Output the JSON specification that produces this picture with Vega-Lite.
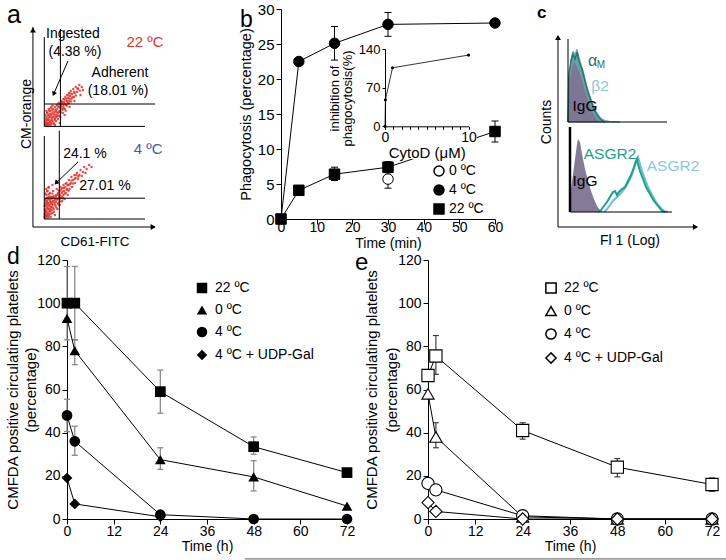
{
 "$schema": "https://vega.github.io/schema/vega-lite/v6.json",
 "background": "white",
 "padding": {"left": 5, "top": 2, "right": 0, "bottom": 0},
 "config": {
  "font": "Liberation Sans",
  "view": {"stroke": null},
  "axis": {"domainColor": "black", "tickColor": "black", "labelColor": "black", "titleColor": "black", "grid": false, "labelFont": "Liberation Sans", "titleFont": "Liberation Sans", "titleFontWeight": "normal", "labelFlush": false, "labelOverlap": false, "tickSize": 5, "domainWidth": 1, "tickWidth": 1},
  "legend": {"labelFont": "Liberation Sans", "labelColor": "black"},
  "text": {"font": "Liberation Sans", "fontWeight": "normal"}
 },
 "datasets": {
  "aDots": [
   {"x":10,"y":51},{"x":10.5,"y":53},{"x":11,"y":52},{"x":11,"y":55},{"x":11.5,"y":51.5},{"x":12,"y":54},{"x":12,"y":57},{"x":12.5,"y":52},{"x":13,"y":53.5},{"x":13,"y":56},{"x":13.5,"y":51},{"x":14,"y":55},{"x":14,"y":58},{"x":14.5,"y":53},{"x":15,"y":52},{"x":15,"y":56},{"x":15.5,"y":54.5},{"x":16,"y":57},{"x":16,"y":53},{"x":16.5,"y":59},{"x":17,"y":55},{"x":17,"y":51.5},{"x":17.5,"y":57.5},{"x":18,"y":54},{"x":18,"y":60},{"x":18.5,"y":56},{"x":19,"y":58},{"x":19,"y":53},{"x":19.5,"y":61},{"x":20,"y":56},{"x":20,"y":59},{"x":20.5,"y":54},{"x":21,"y":57.5},{"x":21,"y":62},{"x":21.5,"y":60},{"x":22,"y":58},{"x":22.5,"y":55},{"x":23,"y":61},{"x":23,"y":63},{"x":23.5,"y":59},{"x":24,"y":62},{"x":24.5,"y":57},{"x":25,"y":64},{"x":25,"y":60},{"x":25.5,"y":62.5},{"x":26,"y":59},{"x":26.5,"y":65},{"x":27,"y":61},{"x":27.5,"y":63},{"x":28,"y":66},{"x":28.5,"y":62},{"x":29,"y":64.5},{"x":29.5,"y":67},{"x":30,"y":63},{"x":30.5,"y":65.5},{"x":31,"y":68},{"x":31.5,"y":64},{"x":32,"y":66.5},{"x":33,"y":69},{"x":33.5,"y":65},{"x":34,"y":67},{"x":35,"y":70},{"x":36,"y":67.5},{"x":37,"y":69},{"x":38,"y":71},{"x":12,"y":50.8},{"x":10.2,"y":56},{"x":13,"y":59},{"x":15,"y":60},{"x":11,"y":58},{"x":18,"y":51},{"x":22,"y":52},{"x":26,"y":56},{"x":30,"y":60},{"x":34,"y":63},{"x":40,"y":70},{"x":41,"y":68.5},{"x":39,"y":66},
   {"x":10.3,"y":52.2},{"x":10.7,"y":54.1},{"x":11.2,"y":50.9},{"x":11.8,"y":53.3},{"x":12.3,"y":55.8},{"x":12.7,"y":51.6},{"x":13.2,"y":54.7},{"x":13.8,"y":52.4},{"x":14.3,"y":56.6},{"x":14.8,"y":51.2},{"x":15.3,"y":53.7},{"x":15.8,"y":58.3},{"x":16.2,"y":55.2},{"x":16.8,"y":52.1},{"x":17.3,"y":56.4},{"x":17.8,"y":53.6},{"x":18.3,"y":58.7},{"x":18.8,"y":54.9},{"x":19.3,"y":57.2},{"x":19.8,"y":55.3},{"x":20.3,"y":60.4},{"x":20.8,"y":57.1},{"x":21.3,"y":55.6},{"x":21.8,"y":61.3},{"x":22.3,"y":59.6},{"x":22.8,"y":57.4},{"x":23.3,"y":60.2},{"x":23.8,"y":62.8},{"x":24.3,"y":58.6},{"x":24.8,"y":61.1},{"x":25.3,"y":59.2},{"x":25.8,"y":63.7},{"x":26.3,"y":61.4},{"x":26.8,"y":58.1},{"x":27.3,"y":64.3},{"x":27.8,"y":60.6},{"x":28.3,"y":63.1},{"x":28.8,"y":65.7},{"x":29.3,"y":61.9},{"x":29.8,"y":64.2},{"x":30.3,"y":66.8},{"x":31.2,"y":62.7},{"x":32.4,"y":64.9},{"x":33.7,"y":67.6},{"x":35.2,"y":65.8},{"x":36.6,"y":69.4},{"x":38.4,"y":68.2},{"x":11.4,"y":57.1},{"x":12.9,"y":58.2},{"x":14.6,"y":59.4},{"x":16.1,"y":60.8},
   {"x":9.5,"y":5},{"x":9.8,"y":7},{"x":10,"y":9},{"x":10,"y":12},{"x":10.2,"y":4.5},{"x":10.5,"y":6},{"x":10.5,"y":14},{"x":11,"y":8},{"x":11,"y":11},{"x":11,"y":16},{"x":11.5,"y":5.5},{"x":11.5,"y":13},{"x":12,"y":7},{"x":12,"y":10},{"x":12,"y":18},{"x":12.5,"y":4.8},{"x":12.5,"y":12},{"x":13,"y":9},{"x":13,"y":15},{"x":13.5,"y":6.5},{"x":13.5,"y":11},{"x":14,"y":8},{"x":14,"y":13.5},{"x":14,"y":17},{"x":14.5,"y":5},{"x":15,"y":10},{"x":15,"y":12.5},{"x":15.5,"y":15},{"x":16,"y":7},{"x":16,"y":11},{"x":16.5,"y":13},{"x":16.5,"y":18},{"x":17,"y":9},{"x":17,"y":15.5},{"x":17.5,"y":12},{"x":18,"y":6},{"x":18,"y":14},{"x":18.5,"y":10.5},{"x":19,"y":16},{"x":19,"y":12.5},{"x":19.5,"y":19},{"x":20,"y":14},{"x":20,"y":9},{"x":20.5,"y":17},{"x":21,"y":12},{"x":21.5,"y":15},{"x":22,"y":18},{"x":22,"y":11},{"x":22.5,"y":20},{"x":23,"y":14.5},{"x":23.5,"y":17},{"x":24,"y":13},{"x":24,"y":19.5},{"x":25,"y":16},{"x":25,"y":21},{"x":25.5,"y":18},{"x":26,"y":14},{"x":26.5,"y":20},{"x":27,"y":17},{"x":27.5,"y":22},{"x":28,"y":19},{"x":28.5,"y":16},{"x":29,"y":21},{"x":29.5,"y":23.5},{"x":30,"y":19},{"x":31,"y":22},{"x":31.5,"y":25},{"x":32,"y":20},{"x":33,"y":23.5},{"x":34,"y":26},{"x":34.5,"y":22},{"x":35,"y":24.5},{"x":36,"y":27},{"x":37,"y":24},{"x":38,"y":26},{"x":39,"y":28.5},{"x":40,"y":25.5},{"x":41,"y":27.5},{"x":42,"y":30},{"x":43,"y":27},{"x":44,"y":29},{"x":46,"y":31},{"x":48,"y":30},{"x":10.8,"y":19},{"x":13,"y":20},{"x":16,"y":21},{"x":19,"y":23},{"x":9.6,"y":10.5},
   {"x":9.7,"y":6.1},{"x":9.9,"y":8.3},{"x":10.1,"y":10.7},{"x":10.4,"y":13.2},{"x":10.6,"y":5.2},{"x":10.9,"y":7.4},{"x":11.2,"y":9.6},{"x":11.4,"y":12.1},{"x":11.7,"y":14.7},{"x":11.9,"y":6.3},{"x":12.2,"y":8.8},{"x":12.4,"y":11.3},{"x":12.7,"y":13.9},{"x":12.9,"y":16.4},{"x":13.2,"y":5.6},{"x":13.4,"y":7.7},{"x":13.7,"y":10.2},{"x":13.9,"y":12.6},{"x":14.2,"y":15.3},{"x":14.4,"y":9.1},{"x":14.7,"y":11.6},{"x":14.9,"y":6.8},{"x":15.2,"y":14.1},{"x":15.4,"y":8.4},{"x":15.7,"y":11.9},{"x":15.9,"y":16.7},{"x":16.3,"y":9.8},{"x":16.7,"y":14.6},{"x":17.2,"y":7.6},{"x":17.6,"y":13.3},{"x":18.2,"y":11.2},{"x":18.7,"y":15.2},{"x":19.2,"y":9.7},{"x":19.7,"y":13.8},{"x":20.2,"y":16.1},{"x":20.7,"y":11.4},{"x":21.2,"y":18.3},{"x":21.7,"y":13.6},{"x":22.2,"y":15.9},{"x":22.7,"y":12.7},{"x":23.2,"y":18.8},{"x":23.7,"y":15.2},{"x":24.2,"y":17.7},{"x":24.7,"y":14.4},{"x":25.4,"y":19.6},{"x":26.1,"y":16.8},{"x":26.8,"y":21.7},{"x":27.6,"y":18.6},{"x":28.4,"y":20.9},{"x":29.2,"y":18.1},{"x":30.3,"y":21.4},{"x":31.6,"y":23.2},{"x":32.8,"y":21.8},{"x":34.2,"y":24.1},{"x":35.6,"y":25.9},{"x":37.2,"y":25.3},{"x":10.2,"y":16.8},{"x":11.6,"y":17.9},{"x":12.6,"y":19.6}
  ],
  "aLines": [
   {"x":0,"y":0,"x2":0,"y2":100},{"x":0,"y":0,"x2":100,"y2":0},
   {"x":9.3,"y":50.3,"x2":9.3,"y2":95},{"x":9.3,"y":50.3,"x2":91.8,"y2":50.3},{"x":9.3,"y":61.5,"x2":100,"y2":61.5},{"x":22.5,"y":50.3,"x2":22.5,"y2":99},
   {"x":9.3,"y":4,"x2":9.3,"y2":45.5},{"x":9.3,"y":4,"x2":91.8,"y2":4},{"x":9.3,"y":14.4,"x2":91.8,"y2":14.4},{"x":21.6,"y":4,"x2":21.6,"y2":48.2},
   {"x":28.7,"y":83,"x2":17,"y2":66.5},{"x":36.9,"y":32.5,"x2":19,"y2":22}
  ],
  "aText": [
   {"x":32.8,"y":96.5,"label":"Ingested"},{"x":34.4,"y":87.5,"label":"(4.38 %)"},
   {"x":71.3,"y":77,"label":"Adherent"},{"x":69.7,"y":68,"label":"(18.01 %)"},
   {"x":42.6,"y":36.5,"label":"24.1 %"},{"x":59,"y":20.5,"label":"27.01 %"}
  ],
  "aTemps": [{"x":91.8,"y":92.5,"label":"22 ºC"},{"x":94.3,"y":39,"label":"4 ºC"}],
  "bPts": [
   {"series":"22 ºC","t":0,"v":0},{"series":"22 ºC","t":5,"v":4.1},{"series":"22 ºC","t":15,"v":6.4},{"series":"22 ºC","t":30,"v":7.4},{"series":"22 ºC","t":60,"v":12.5},
   {"series":"4 ºC","t":5,"v":22.5},{"series":"4 ºC","t":15,"v":25.1},{"series":"4 ºC","t":30,"v":27.8},{"series":"4 ºC","t":60,"v":28},
   {"series":"0 ºC","t":30,"v":5.7}
  ],
  "bLines": [
   {"series":"22 ºC","t":0,"v":0},{"series":"22 ºC","t":5,"v":4.1},{"series":"22 ºC","t":15,"v":6.4},{"series":"22 ºC","t":30,"v":7.4},{"series":"22 ºC","t":60,"v":12.5},
   {"series":"4 ºC","t":0,"v":0},{"series":"4 ºC","t":5,"v":22.5},{"series":"4 ºC","t":15,"v":25.1},{"series":"4 ºC","t":30,"v":27.8},{"series":"4 ºC","t":60,"v":28}
  ],
  "bErr": [
   {"t":15,"lo":22.7,"hi":27.5},{"t":30,"lo":26.1,"hi":29.5},{"t":15,"lo":5.5,"hi":7.4},{"t":30,"lo":6.6,"hi":8.2},{"t":60,"lo":11,"hi":14},{"t":30,"lo":4.4,"hi":7.9}
  ],
  "bInset": [{"c":0,"inh":0},{"c":0.05,"inh":48},{"c":0.9,"inh":106},{"c":10,"inh":129}],
  "cB2": [{"x":10,"y":105},{"x":11,"y":148},{"x":13,"y":168},{"x":15,"y":176},{"x":17,"y":173},{"x":19,"y":178},{"x":21,"y":170},{"x":23,"y":163},{"x":26,"y":153},{"x":29,"y":140},{"x":32,"y":131},{"x":35,"y":123},{"x":38,"y":116},{"x":42,"y":110},{"x":46,"y":107},{"x":52,"y":105.5},{"x":62,"y":105}],
  "cAM": [{"x":10,"y":105},{"x":11,"y":153},{"x":13,"y":166},{"x":15,"y":173},{"x":17,"y":168},{"x":19,"y":175},{"x":21,"y":166},{"x":24,"y":158},{"x":27,"y":146},{"x":30,"y":135},{"x":33,"y":126},{"x":36,"y":118},{"x":39,"y":112},{"x":43,"y":107},{"x":47,"y":105}],
  "cIgG1": [{"x":10,"y":105},{"x":11,"y":128},{"x":12,"y":146},{"x":14,"y":160},{"x":16,"y":165},{"x":18,"y":162},{"x":20,"y":158},{"x":23,"y":150},{"x":26,"y":140},{"x":29,"y":130},{"x":32,"y":121},{"x":35,"y":114},{"x":38,"y":109},{"x":42,"y":105}],
  "cIgG2": [{"x":12,"y":15},{"x":13,"y":38},{"x":15,"y":53},{"x":17,"y":68},{"x":19,"y":83},{"x":20,"y":88},{"x":22,"y":85},{"x":24,"y":73},{"x":27,"y":58},{"x":30,"y":46},{"x":33,"y":36},{"x":36,"y":28},{"x":39,"y":21},{"x":42,"y":17},{"x":45,"y":15}],
  "cAsgG": [{"x":40,"y":15},{"x":43,"y":17},{"x":46,"y":21},{"x":49,"y":25},{"x":52,"y":30},{"x":55,"y":35},{"x":57,"y":36},{"x":59,"y":32},{"x":61,"y":35},{"x":64,"y":38},{"x":67,"y":40},{"x":70,"y":46},{"x":73,"y":52},{"x":76,"y":60},{"x":78,"y":66},{"x":79,"y":68},{"x":80,"y":63},{"x":82,"y":56},{"x":85,"y":48},{"x":88,"y":40},{"x":92,"y":33},{"x":96,"y":26},{"x":100,"y":21},{"x":104,"y":16},{"x":107,"y":15}],
  "cAsgB": [{"x":46,"y":15},{"x":49,"y":18},{"x":52,"y":22},{"x":55,"y":26},{"x":58,"y":29},{"x":61,"y":32},{"x":64,"y":35},{"x":67,"y":39},{"x":70,"y":44},{"x":73,"y":50},{"x":76,"y":58},{"x":78,"y":65},{"x":80,"y":70},{"x":82,"y":63},{"x":84,"y":56},{"x":87,"y":48},{"x":90,"y":40},{"x":94,"y":32},{"x":98,"y":25},{"x":102,"y":20},{"x":106,"y":16},{"x":110,"y":15}],
  "cLines": [{"x":0,"y":0,"x2":0,"y2":191},{"x":0,"y":0,"x2":139,"y2":0},{"x":10,"y":105,"x2":10,"y2":188},{"x":10,"y":105,"x2":109,"y2":105},{"x":12,"y":15,"x2":114,"y2":15}],
  "cLabels": [
   {"x":27,"y":121,"label":"IgG","kind":"IgG"},{"x":27,"y":46,"label":"IgG","kind":"IgG"},
   {"x":42,"y":141,"label":"β2","kind":"β2"},{"x":52,"y":73,"label":"ASGR2","kind":"ASGR2 a"},{"x":115,"y":61,"label":"ASGR2","kind":"ASGR2 b"}
  ],
  "dPts": [
   {"series":"22 ºC","t":0,"v":100},{"series":"22 ºC","t":2,"v":100},{"series":"22 ºC","t":24,"v":59},{"series":"22 ºC","t":48,"v":33.5},{"series":"22 ºC","t":72,"v":21.5},
   {"series":"0 ºC","t":0,"v":93},{"series":"0 ºC","t":2,"v":78},{"series":"0 ºC","t":24,"v":27.5},{"series":"0 ºC","t":48,"v":19.5},{"series":"0 ºC","t":72,"v":6},
   {"series":"4 ºC","t":0,"v":48},{"series":"4 ºC","t":2,"v":36},{"series":"4 ºC","t":24,"v":2},{"series":"4 ºC","t":48,"v":0},{"series":"4 ºC","t":72,"v":0},
   {"series":"4 ºC + UDP-Gal","t":0,"v":19},{"series":"4 ºC + UDP-Gal","t":2,"v":7},{"series":"4 ºC + UDP-Gal","t":24,"v":1}
  ],
  "dErr": [
   {"t":0,"lo":83,"hi":117},{"t":2,"lo":83,"hi":117},{"t":24,"lo":49,"hi":69},{"t":48,"lo":30,"hi":38},
   {"t":2,"lo":71.5,"hi":83},{"t":24,"lo":23,"hi":33},{"t":48,"lo":13,"hi":27},
   {"t":0,"lo":40.5,"hi":55.5},{"t":2,"lo":29.5,"hi":43}
  ],
  "ePts": [
   {"series":"22 ºC","t":0,"v":66.5},{"series":"22 ºC","t":2,"v":75.5},{"series":"22 ºC","t":24,"v":41},{"series":"22 ºC","t":48,"v":24},{"series":"22 ºC","t":72,"v":16},
   {"series":"0 ºC","t":0,"v":58},{"series":"0 ºC","t":2,"v":38},{"series":"0 ºC","t":24,"v":1},{"series":"0 ºC","t":48,"v":0},{"series":"0 ºC","t":72,"v":0},
   {"series":"4 ºC","t":0,"v":16.5},{"series":"4 ºC","t":2,"v":13.5},{"series":"4 ºC","t":24,"v":1.5},{"series":"4 ºC","t":48,"v":0},{"series":"4 ºC","t":72,"v":0},
   {"series":"4 ºC + UDP-Gal","t":0,"v":7.6},{"series":"4 ºC + UDP-Gal","t":2,"v":3.5},{"series":"4 ºC + UDP-Gal","t":24,"v":0},{"series":"4 ºC + UDP-Gal","t":48,"v":0},{"series":"4 ºC + UDP-Gal","t":72,"v":0}
  ],
  "eErr": [
   {"t":2,"lo":67,"hi":85},{"t":24,"lo":37,"hi":44.6},{"t":48,"lo":19.5,"hi":28},{"t":72,"lo":12.8,"hi":19},{"t":2,"lo":33,"hi":44.6}
  ]
 },
 "spacing": -5,
 "resolve": {"scale": {"color": "independent", "shape": "independent", "fill": "independent"}},
 "vconcat": [
  {
   "resolve": {"scale": {"color": "independent", "shape": "independent", "fill": "independent"}},
   "hconcat": [
    {
     "width": 151, "height": 218,
     "encoding": {
      "x": {"field": "x", "type": "quantitative", "scale": {"domain": [27.9, 151.6], "nice": false, "zero": false}, "axis": null},
      "y": {"field": "y", "type": "quantitative", "scale": {"domain": [0, 109], "nice": false, "zero": false}, "axis": null}
     },
     "layer": [
      {"data": {"name": "aDots"}, "mark": {"type": "circle", "color": "#e2332b", "size": 6, "opacity": 0.85}},
      {"data": {"name": "aLines"}, "mark": {"type": "rule", "color": "black", "strokeWidth": 1}, "encoding": {"x2": {"field": "x2"}, "y2": {"field": "y2"}}},
      {"data": {"values": [{"x": 0, "y": 98.5}]}, "mark": {"type": "point", "shape": "triangle-up", "filled": true, "color": "black", "size": 35, "opacity": 1}},
      {"data": {"values": [{"x": 98.5, "y": 0}]}, "mark": {"type": "point", "shape": "triangle-right", "filled": true, "color": "black", "size": 35, "opacity": 1}},
      {"data": {"values": [{"x": 17, "y": 66.5}]}, "mark": {"type": "point", "shape": "triangle-up", "filled": true, "color": "black", "size": 28, "opacity": 1, "angle": 203}},
      {"data": {"values": [{"x": 19, "y": 22}]}, "mark": {"type": "point", "shape": "triangle-up", "filled": true, "color": "black", "size": 28, "opacity": 1, "angle": 226}},
      {"data": {"name": "aText"}, "mark": {"type": "text", "fontSize": 14, "color": "black"}, "encoding": {"text": {"field": "label"}}},
      {"data": {"name": "aTemps"}, "mark": {"type": "text", "fontSize": 15}, "encoding": {"text": {"field": "label"}, "color": {"field": "label", "type": "nominal", "scale": {"domain": ["22 ºC", "4 ºC"], "range": ["#e2332b", "#4a59a7"]}, "legend": null}}},
      {"data": {"values": [{"x": -4.9, "y": 56.5, "label": "CM-orange"}]}, "mark": {"type": "text", "fontSize": 14, "color": "black", "angle": 270}, "encoding": {"text": {"field": "label"}}},
      {"data": {"values": [{"x": 50.8, "y": -7.5, "label": "CD61-FITC"}]}, "mark": {"type": "text", "fontSize": 13.5, "color": "black"}, "encoding": {"text": {"field": "label"}}},
      {"data": {"values": [{"x": -21.3, "y": 102, "label": "a"}]}, "mark": {"type": "text", "fontSize": 25, "color": "black", "align": "left", "baseline": "alphabetic"}, "encoding": {"text": {"field": "label"}}}
     ]
    },
    {
     "width": 214, "height": 210,
     "layer": [
      {
       "encoding": {
        "x": {"field": "t", "type": "quantitative", "scale": {"domain": [0, 60], "nice": false, "zero": false}, "axis": {"values": [0, 10, 20, 30, 40, 50, 60], "title": "Time (min)", "labelFontSize": 14, "titleFontSize": 14, "titleFontWeight": "normal", "labelPadding": -4, "titlePadding": 2}},
        "y": {"field": "v", "type": "quantitative", "scale": {"domain": [0, 30], "nice": false, "zero": false}, "axis": {"values": [0, 5, 10, 15, 20, 25, 30], "title": "Phagocytosis (percentage)", "labelFontSize": 15, "titleFontSize": 14.5, "titleFontWeight": "normal", "labelPadding": 2, "titlePadding": 4}}
       },
       "layer": [
        {"data": {"name": "bErr"}, "mark": {"type": "rule", "color": "black", "strokeWidth": 1}, "encoding": {"y": {"field": "lo"}, "y2": {"field": "hi"}}},
        {"data": {"name": "bErr"}, "mark": {"type": "tick", "color": "black", "orient": "horizontal", "size": 7, "thickness": 1, "opacity": 1}, "encoding": {"y": {"field": "lo"}}},
        {"data": {"name": "bErr"}, "mark": {"type": "tick", "color": "black", "orient": "horizontal", "size": 7, "thickness": 1, "opacity": 1}, "encoding": {"y": {"field": "hi"}}},
        {"data": {"name": "bLines"}, "mark": {"type": "line", "color": "black", "strokeWidth": 1}, "encoding": {"detail": {"field": "series"}}},
        {"data": {"values": [{"t": -11.5, "v": 27.4, "label": "b"}]}, "mark": {"type": "text", "fontSize": 23, "color": "black", "align": "left", "baseline": "alphabetic"}, "encoding": {"text": {"field": "label"}}},
        {"data": {"name": "bPts"}, "mark": {"type": "point", "filled": true, "stroke": "black", "strokeWidth": 1, "size": 110, "opacity": 1},
         "encoding": {
          "shape": {"field": "series", "type": "nominal", "scale": {"domain": ["0 ºC", "4 ºC", "22 ºC"], "range": ["circle", "circle", "square"]}, "legend": {"title": null, "orient": "none", "legendX": 151, "legendY": 155, "symbolSize": 100, "labelFontSize": 14, "rowPadding": 3, "labelOffset": 3}},
          "fill": {"field": "series", "type": "nominal", "scale": {"domain": ["0 ºC", "4 ºC", "22 ºC"], "range": ["white", "black", "black"]}, "legend": {"title": null, "orient": "none", "legendX": 151, "legendY": 155, "symbolSize": 100, "labelFontSize": 14, "rowPadding": 3, "labelOffset": 3}}
         }}
       ]
      },
      {
       "encoding": {
        "x": {"field": "c", "type": "quantitative", "scale": {"domain": [0, 10], "range": [104, 187.5], "nice": false, "zero": false}, "axis": {"orient": "bottom", "offset": -92.7, "values": [0, 1, 2, 3, 4, 5, 6, 7, 8, 9, 10], "labelExpr": "datum.value == 0 || datum.value == 10 ? datum.label : ''", "tickSize": 3, "labelFontSize": 14, "labelPadding": 1, "title": "CytoD (μM)", "titleFontSize": 15, "titleFontWeight": "normal", "titlePadding": 1, "zindex": 1}},
        "y": {"field": "inh", "type": "quantitative", "scale": {"domain": [0, 140], "range": [117.3, 40], "nice": false, "zero": false}, "axis": {"orient": "left", "offset": -104, "values": [0, 70, 140], "tickSize": 3, "labelFontSize": 13, "labelPadding": 2, "title": ["inhibition of", "phagocytosis(%)"], "titleFontSize": 13, "titleFontWeight": "normal", "titleLineHeight": 12.5, "titlePadding": 4, "titleY": 89, "zindex": 1}}
       },
       "layer": [
        {"data": {"values": [{"c": -1.1, "c2": 11, "inh": -59, "inh2": 149}]}, "mark": {"type": "rect", "color": "white"}, "encoding": {"x2": {"field": "c2"}, "y2": {"field": "inh2"}}},
        {"data": {"name": "bInset"}, "mark": {"type": "line", "color": "black", "strokeWidth": 0.8}},
        {"data": {"name": "bInset"}, "mark": {"type": "circle", "color": "black", "size": 10, "opacity": 1}}
       ]
      }
     ],
     "resolve": {"scale": {"x": "independent", "y": "independent"}, "axis": {"x": "independent", "y": "independent"}}
    },
    {
     "width": 139, "height": 218,
     "encoding": {
      "x": {"field": "x", "type": "quantitative", "scale": {"domain": [0, 139], "nice": false, "zero": false}, "axis": null},
      "y": {"field": "y", "type": "quantitative", "scale": {"domain": [0, 218], "nice": false, "zero": false}, "axis": null}
     },
     "layer": [
      {"data": {"name": "cB2"}, "mark": {"type": "area", "color": "#7ab8cf", "opacity": 0.9, "stroke": "#5fa6c2", "strokeWidth": 1}, "encoding": {"y2": {"datum": 105}}},
      {"data": {"name": "cAM"}, "mark": {"type": "area", "color": "#3f8c80", "opacity": 0.5}, "encoding": {"y2": {"datum": 105}}},
      {"data": {"name": "cIgG1"}, "mark": {"type": "area", "color": "#7f7393", "opacity": 0.95}, "encoding": {"y2": {"datum": 105}}},
      {"data": {"name": "cAM"}, "mark": {"type": "line", "color": "#2f7566", "strokeWidth": 1.5}},
      {"data": {"name": "cIgG2"}, "mark": {"type": "area", "color": "#7f7393", "opacity": 0.95}, "encoding": {"y2": {"datum": 15}}},
      {"data": {"name": "cAsgB"}, "mark": {"type": "line", "color": "#6fbcd8", "strokeWidth": 2}},
      {"data": {"name": "cAsgG"}, "mark": {"type": "line", "color": "#1aa189", "strokeWidth": 2}},
      {"data": {"name": "cLines"}, "mark": {"type": "rule", "color": "black", "strokeWidth": 1}, "encoding": {"x2": {"field": "x2"}, "y2": {"field": "y2"}}},
      {"data": {"values": [{"x": 12, "y": 15, "y2": 100}]}, "mark": {"type": "rule", "color": "black", "strokeWidth": 2.5}, "encoding": {"y2": {"field": "y2"}}},
      {"data": {"values": [{"x": 0, "y": 189.5}]}, "mark": {"type": "point", "shape": "triangle-up", "filled": true, "color": "black", "size": 35, "opacity": 1}},
      {"data": {"values": [{"x": 137.5, "y": 0}]}, "mark": {"type": "point", "shape": "triangle-right", "filled": true, "color": "black", "size": 35, "opacity": 1}},
      {"data": {"name": "cLabels"}, "mark": {"type": "text", "fontSize": 15.5}, "encoding": {"text": {"field": "label"}, "color": {"field": "kind", "type": "nominal", "scale": {"domain": ["IgG", "β2", "ASGR2 a", "ASGR2 b"], "range": ["black", "#8cc6dc", "#24a08a", "#86c8e0"]}, "legend": null}}},
      {"data": {"values": [{"x": 34.7, "y": 166.3, "label": "α"}]}, "mark": {"type": "text", "fontSize": 16, "color": "#2f6e5f"}, "encoding": {"text": {"field": "label"}}},
      {"data": {"values": [{"x": 43, "y": 162.3, "label": "M"}]}, "mark": {"type": "text", "fontSize": 10, "color": "#2f6e5f"}, "encoding": {"text": {"field": "label"}}},
      {"data": {"values": [{"x": -11, "y": 105, "label": "Counts"}]}, "mark": {"type": "text", "fontSize": 14, "color": "black", "angle": 270}, "encoding": {"text": {"field": "label"}}},
      {"data": {"values": [{"x": 72, "y": -14, "label": "Fl 1 (Log)"}]}, "mark": {"type": "text", "fontSize": 14, "color": "black"}, "encoding": {"text": {"field": "label"}}},
      {"data": {"values": [{"x": -21, "y": 209, "label": "c"}]}, "mark": {"type": "text", "fontSize": 17, "fontWeight": "bold", "color": "black", "align": "left", "baseline": "alphabetic"}, "encoding": {"text": {"field": "label"}}}
     ]
    }
   ],
   "spacing": 63,
   "bounds": "flush"
  },
  {
   "resolve": {"scale": {"color": "independent", "shape": "independent", "fill": "independent"}},
   "hconcat": [
    {
     "width": 280, "height": 259,
     "encoding": {
      "x": {"field": "t", "type": "quantitative", "scale": {"domain": [0, 72], "nice": false, "zero": false}, "axis": {"values": [0, 12, 24, 36, 48, 60, 72], "title": "Time (h)", "labelFontSize": 14, "titleFontSize": 14, "titleFontWeight": "normal", "labelPadding": 0, "titlePadding": 1}},
      "y": {"field": "v", "type": "quantitative", "scale": {"domain": [0, 120], "nice": false, "zero": false}, "axis": {"values": [0, 20, 40, 60, 80, 100, 120], "title": ["CMFDA positive circulating platelets", "(percentage)"], "labelFontSize": 14, "titleFontSize": 15, "titleFontWeight": "normal", "titleLineHeight": 18, "labelPadding": 2, "titlePadding": -2}}
     },
     "layer": [
      {"data": {"name": "dErr"}, "mark": {"type": "rule", "color": "#8a8a8a", "strokeWidth": 1.3}, "encoding": {"y": {"field": "lo"}, "y2": {"field": "hi"}}},
      {"data": {"name": "dErr"}, "mark": {"type": "tick", "color": "#8a8a8a", "orient": "horizontal", "size": 6, "thickness": 1.3, "opacity": 1}, "encoding": {"y": {"field": "lo"}}},
      {"data": {"name": "dErr"}, "mark": {"type": "tick", "color": "#8a8a8a", "orient": "horizontal", "size": 6, "thickness": 1.3, "opacity": 1}, "encoding": {"y": {"field": "hi"}}},
      {"data": {"name": "dPts"}, "mark": {"type": "line", "color": "black", "strokeWidth": 1}, "encoding": {"detail": {"field": "series"}}},
      {"data": {"values": [{"t": -15.4, "v": 118.2, "label": "d"}]}, "mark": {"type": "text", "fontSize": 23, "color": "black", "align": "left", "baseline": "alphabetic"}, "encoding": {"text": {"field": "label"}}},
      {"data": {"name": "dPts"}, "mark": {"type": "point", "filled": true, "color": "black", "size": 115, "opacity": 1},
       "encoding": {
        "shape": {"field": "series", "type": "nominal", "scale": {"domain": ["22 ºC", "0 ºC", "4 ºC", "4 ºC + UDP-Gal"], "range": ["square", "triangle-up", "circle", "diamond"]}, "legend": {"title": null, "orient": "none", "legendX": 128, "legendY": 21, "symbolSize": 110, "labelFontSize": 14, "rowPadding": 5, "labelOffset": 6, "symbolFillColor": "black"}}
       }}
     ]
    },
    {
     "width": 284, "height": 259,
     "encoding": {
      "x": {"field": "t", "type": "quantitative", "scale": {"domain": [0, 72], "nice": false, "zero": false}, "axis": {"values": [0, 12, 24, 36, 48, 60, 72], "title": "Time (h)", "labelFontSize": 14, "titleFontSize": 14, "titleFontWeight": "normal", "labelPadding": 0, "titlePadding": 1}},
      "y": {"field": "v", "type": "quantitative", "scale": {"domain": [0, 120], "nice": false, "zero": false}, "axis": {"values": [0, 20, 40, 60, 80, 100, 120], "title": ["CMFDA positive circulating platelets", "(percentage)"], "labelFontSize": 14, "titleFontSize": 15, "titleFontWeight": "normal", "titleLineHeight": 20, "labelPadding": 2, "titlePadding": -2}}
     },
     "layer": [
      {"data": {"values": [{"t": -46.4, "t2": 75.6, "v": -18.5}]}, "mark": {"type": "rule", "color": "#555555", "strokeWidth": 1}, "encoding": {"x2": {"field": "t2"}}},
      {"data": {"name": "eErr"}, "mark": {"type": "rule", "color": "#333333", "strokeWidth": 1.1}, "encoding": {"y": {"field": "lo"}, "y2": {"field": "hi"}}},
      {"data": {"name": "eErr"}, "mark": {"type": "tick", "color": "#333333", "orient": "horizontal", "size": 6, "thickness": 1.1, "opacity": 1}, "encoding": {"y": {"field": "lo"}}},
      {"data": {"name": "eErr"}, "mark": {"type": "tick", "color": "#333333", "orient": "horizontal", "size": 6, "thickness": 1.1, "opacity": 1}, "encoding": {"y": {"field": "hi"}}},
      {"data": {"name": "ePts"}, "mark": {"type": "line", "color": "black", "strokeWidth": 1}, "encoding": {"detail": {"field": "series"}}},
      {"data": {"values": [{"t": -18.5, "v": 115.4, "label": "e"}]}, "mark": {"type": "text", "fontSize": 24, "color": "black", "align": "left", "baseline": "alphabetic"}, "encoding": {"text": {"field": "label"}}},
      {"data": {"name": "ePts"}, "mark": {"type": "point", "filled": true, "stroke": "black", "strokeWidth": 1.1, "size": 150, "opacity": 1},
       "encoding": {
        "shape": {"field": "series", "type": "nominal", "scale": {"domain": ["22 ºC", "0 ºC", "4 ºC", "4 ºC + UDP-Gal"], "range": ["square", "triangle-up", "circle", "diamond"]}, "legend": {"title": null, "orient": "none", "legendX": 116, "legendY": 21, "symbolSize": 105, "labelFontSize": 14, "rowPadding": 6, "labelOffset": 6}},
        "fill": {"field": "series", "type": "nominal", "scale": {"domain": ["22 ºC", "0 ºC", "4 ºC", "4 ºC + UDP-Gal"], "range": ["white", "white", "white", "white"]}, "legend": {"title": null, "orient": "none", "legendX": 116, "legendY": 21, "symbolSize": 105, "labelFontSize": 14, "rowPadding": 6, "labelOffset": 6}}
       }}
     ]
    }
   ],
   "spacing": 81,
   "bounds": "flush"
  }
 ]
}
